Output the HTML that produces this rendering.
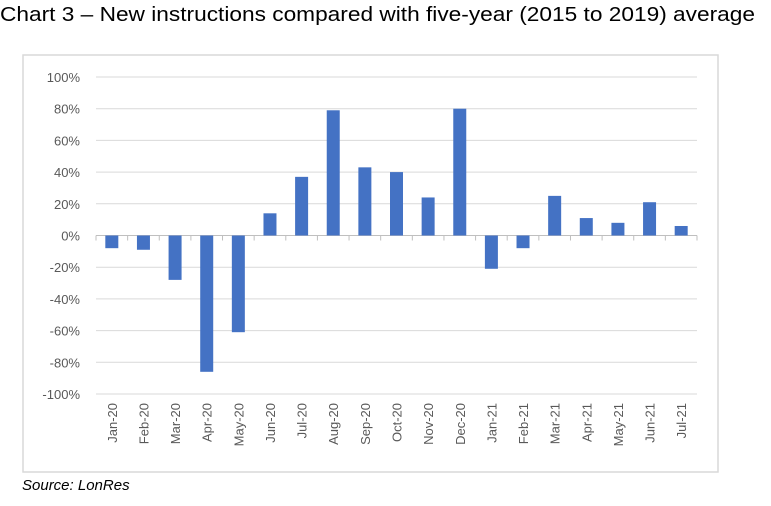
<!DOCTYPE html>
<html><head><meta charset="utf-8"><style>
body{margin:0;background:#fff;width:771px;height:501px;overflow:hidden;font-family:"Liberation Sans",sans-serif}
</style></head><body>
<svg width="771" height="501" xmlns="http://www.w3.org/2000/svg">
<text x="0" y="21" font-size="20" textLength="755" lengthAdjust="spacingAndGlyphs" fill="#000">Chart 3 – New instructions compared with five-year (2015 to 2019) average</text>
<rect x="23" y="55" width="695" height="417" fill="#fff" stroke="#d9d9d9" stroke-width="1.5"/>
<g id="grid"></g><g id="bars"></g><g id="xlabels"></g><g id="ylabels"></g>
<text x="22" y="490" font-size="15" font-style="italic" fill="#000">Source: LonRes</text>
</svg>
<script>
const categories=["Jan-20","Feb-20","Mar-20","Apr-20","May-20","Jun-20","Jul-20","Aug-20","Sep-20","Oct-20","Nov-20","Dec-20","Jan-21","Feb-21","Mar-21","Apr-21","May-21","Jun-21","Jul-21"];
const values=[-8,-9,-28,-86,-61,14,37,79,43,40,24,80,-21,-8,25,11,8,21,6];
const yTicks=[100,80,60,40,20,0,-20,-40,-60,-80,-100];
const yTickLabels=["100%","80%","60%","40%","20%","0%","-20%","-40%","-60%","-80%","-100%"];
const NS="http://www.w3.org/2000/svg";
const x0=96,x1=697,yTop=77,yBot=394;
function y(v){return yTop+(100-v)/200*(yBot-yTop);}
const band=(x1-x0)/categories.length;
function xc(i){return x0+band*(i+0.5);}
function mk(t,a,p){const e=document.createElementNS(NS,t);for(const k in a)e.setAttribute(k,a[k]);p.appendChild(e);return e;}
const g=document.getElementById('grid'),yl=document.getElementById('ylabels');
yTicks.forEach((v,i)=>{
 const l=mk('line',{x1:x0,x2:x1,y1:y(v),y2:y(v),stroke:v===0?'#bfbfbf':'#d9d9d9','stroke-width':1},g);
 
 
 const t=mk('text',{x:80,y:y(v)+5,'text-anchor':'end','font-size':13,fill:'#595959'},yl);
 t.textContent=yTickLabels[i];
 
 
});
for(let i=0;i<=categories.length;i++){
 const tk=mk('line',{x1:x0+band*i,x2:x0+band*i,y1:y(0),y2:y(0)+5,stroke:'#bfbfbf'},g);
 
 
}
const b=document.getElementById('bars'),xl=document.getElementById('xlabels');
categories.forEach((c,i)=>{
 const v=values[i],w=13;
 const r=mk('rect',{x:xc(i)-w/2,y:Math.min(y(v),y(0)),width:w,height:Math.abs(y(v)-y(0)),fill:'#4472c4'},b);
 
 
 const t=mk('text',{x:0,y:0,'text-anchor':'end','font-size':13,fill:'#595959',transform:`translate(${xc(i)+5},403) rotate(-90)`},xl);
 t.textContent=c;
 
 
});
</script>
</body></html>
